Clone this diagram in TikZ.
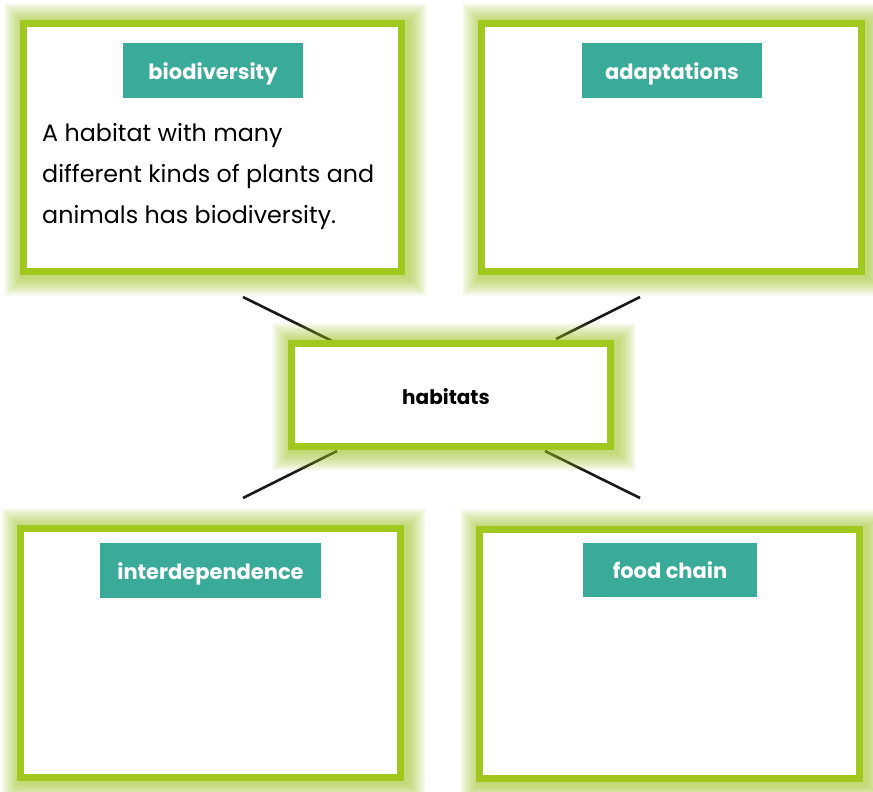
\documentclass[tikz,border=0pt]{standalone}
\usepackage{fontspec}
\setmainfont{Poppins}
\definecolor{tealbox}{RGB}{58,170,153}
\definecolor{limeband}{RGB}{160,200,30}
\definecolor{inkline}{RGB}{25,25,25}
\newcommand\glowrect[4]{%
  \foreach \d in {26,25,...,8} {
    \fill[limeband,opacity=0.045] ({#1-\d+3},{#2-\d+2}) rectangle ({#3+\d+3},{#4+\d+2});
  }
  \fill[limeband] ({#1-7},{#2-7}) rectangle ({#3+7},{#4+7});
}
\begin{document}
\begin{tikzpicture}[x=1pt,y=-1pt,
  panel/.style={fill=white,inner sep=0pt,anchor=north west},
  tag/.style={fill=tealbox,text=white,inner sep=0pt,text height=21pt,text depth=4pt,
              font=\bfseries\fontsize{21}{24}\selectfont},
  link/.style={draw=inkline,line width=2.6pt}]
\useasboundingbox (0,0) rectangle (873,792);
\fill[white] (0,0) rectangle (873,792);

% glows of the four outer panels
\glowrect{27}{27}{398}{268}
\glowrect{485}{27}{858}{268}
\glowrect{24}{532}{397}{774}
\glowrect{483}{533}{856}{775}

% panels
\node[panel,minimum width=371pt,minimum height=241pt] (bio) at (27,27) {};
\node[panel,minimum width=373pt,minimum height=241pt] (ada) at (485,27) {};
\node[panel,minimum width=373pt,minimum height=242pt] (int) at (24,532) {};
\node[panel,minimum width=373pt,minimum height=242pt] (foo) at (483,533) {};

% connectors (drawn before the centre glow so they fade into it)
\coordinate (l1a) at (243,297); \coordinate (l1b) at (332,341);
\coordinate (l2a) at (640,297); \coordinate (l2b) at (556,339);
\coordinate (l3a) at (337,451); \coordinate (l3b) at (243,498);
\coordinate (l4a) at (545,451); \coordinate (l4b) at (640,498);
\draw[link] (l1a) -- (l1b);
\draw[link] (l2a) -- (l2b);
\draw[link] (l3a) -- (l3b);
\draw[link] (l4a) -- (l4b);

% centre panel
\glowrect{295}{347}{607}{443}
\node[panel,minimum width=312pt,minimum height=96pt] (hab) at (295,347) {};
\node[font=\bfseries\fontsize{20}{24}\selectfont,text=black] (habt) at (446,397) {habitats};

% tags
\node[tag,minimum width=180pt,minimum height=55pt] (biot) at (213,70.5) {biodiversity};
\node[tag,minimum width=180pt,minimum height=55pt] (adat) at (672,70.5) {adaptations};
\node[tag,minimum width=221pt,minimum height=55pt] (intt) at (210.5,570.5) {interdependence};
\node[tag,minimum width=174pt,minimum height=54pt] (foot) at (670,570) {food chain};

% body text
\node[anchor=north west,inner sep=0pt,align=left,text=black,
      font=\fontsize{23.8}{41}\selectfont] (biobody) at (42,123)
  {A habitat with many\\different kinds of plants and\\animals has biodiversity.};
\end{tikzpicture}
\end{document}
